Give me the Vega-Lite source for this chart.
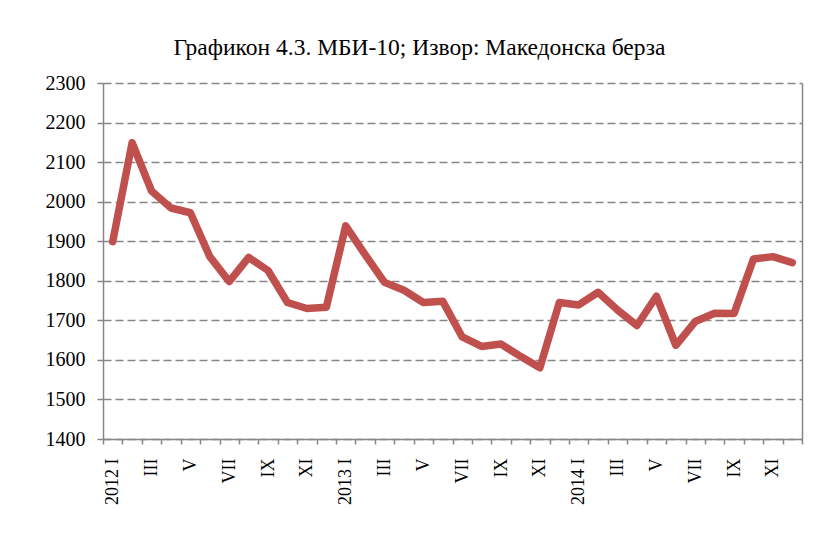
{
  "$schema": "https://vega.github.io/schema/vega-lite/v6.json",
  "autosize": {"type": "none"},
  "width": 699,
  "height": 356,
  "padding": {"left": 103, "top": 83, "right": 20, "bottom": 95},
  "background": "white",
  "title": {
    "text": "Графикон 4.3. МБИ-10; Извор: Македонска берза",
    "font": "Liberation Serif",
    "fontSize": 23.5,
    "fontWeight": "normal",
    "color": "black",
    "anchor": "middle",
    "dx": -33,
    "dy": 33,
    "baseline": "alphabetic",
    "offset": 28
  },
  "config": {
    "view": {"stroke": null},
    "axis": {
      "labelFont": "Liberation Serif",
      "labelColor": "black",
      "domainColor": "#868686",
      "domainWidth": 1.5,
      "tickColor": "#868686",
      "tickWidth": 1.5,
      "gridColor": "#868686",
      "gridWidth": 1.3,
      "gridDash": [8, 4],
      "title": null
    }
  },
  "data": {
    "values": [
      {"month": "2012-01", "value": 1899},
      {"month": "2012-02", "value": 2149},
      {"month": "2012-03", "value": 2027},
      {"month": "2012-04", "value": 1984},
      {"month": "2012-05", "value": 1972},
      {"month": "2012-06", "value": 1861},
      {"month": "2012-07", "value": 1798},
      {"month": "2012-08", "value": 1859},
      {"month": "2012-09", "value": 1826},
      {"month": "2012-10", "value": 1745},
      {"month": "2012-11", "value": 1730},
      {"month": "2012-12", "value": 1733},
      {"month": "2013-01", "value": 1939},
      {"month": "2013-02", "value": 1866},
      {"month": "2013-03", "value": 1796},
      {"month": "2013-04", "value": 1776},
      {"month": "2013-05", "value": 1745},
      {"month": "2013-06", "value": 1748},
      {"month": "2013-07", "value": 1658},
      {"month": "2013-08", "value": 1634},
      {"month": "2013-09", "value": 1640},
      {"month": "2013-10", "value": 1609},
      {"month": "2013-11", "value": 1580},
      {"month": "2013-12", "value": 1745},
      {"month": "2014-01", "value": 1739},
      {"month": "2014-02", "value": 1771},
      {"month": "2014-03", "value": 1726},
      {"month": "2014-04", "value": 1687},
      {"month": "2014-05", "value": 1761},
      {"month": "2014-06", "value": 1637},
      {"month": "2014-07", "value": 1697},
      {"month": "2014-08", "value": 1718},
      {"month": "2014-09", "value": 1717},
      {"month": "2014-10", "value": 1855},
      {"month": "2014-11", "value": 1861},
      {"month": "2014-12", "value": 1846}
    ]
  },
  "encoding": {
    "x": {
      "field": "month",
      "type": "ordinal",
      "bandPosition": 0.5,
      "scale": {"type": "band", "paddingInner": 0, "paddingOuter": 0},
      "axis": {
        "tickBand": "extent",
        "tickSize": 5,
        "labelAngle": -90,
        "labelAlign": "right",
        "labelBaseline": "middle",
        "labelPadding": 14,
        "labelFontSize": 18,
        "labelOverlap": false,
        "grid": false,
        "labelExpr": "!isString(datum.value) ? '' : (toNumber(substring(datum.value,5,7)) % 2 == 0) ? '' : ((substring(datum.value,5,7) == '01' ? substring(datum.value,0,4) + ' ' : '') + ['I','II','III','IV','V','VI','VII','VIII','IX','X','XI','XII'][toNumber(substring(datum.value,5,7)) - 1])"
      }
    },
    "y": {
      "field": "value",
      "type": "quantitative",
      "scale": {"domain": [1400, 2300], "nice": false, "zero": false}
    }
  },
  "layer": [
    {
      "mark": {"type": "line", "color": "#C0504D", "strokeWidth": 7.5, "strokeCap": "round", "strokeJoin": "round"},
      "encoding": {
        "y": {
          "field": "value",
          "type": "quantitative",
          "axis": {
            "values": [1400, 1500, 1600, 1700, 1800, 1900, 2000, 2100, 2200, 2300],
            "format": "d",
            "tickSize": 6,
            "labelPadding": 12,
            "labelFontSize": 20,
            "grid": true
          }
        }
      }
    },
    {
      "mark": {"type": "line", "opacity": 0},
      "encoding": {
        "y": {
          "field": "value",
          "type": "quantitative",
          "axis": {"orient": "right", "labels": false, "ticks": false, "grid": false, "domain": true}
        }
      }
    }
  ],
  "resolve": {"axis": {"y": "independent"}}
}
